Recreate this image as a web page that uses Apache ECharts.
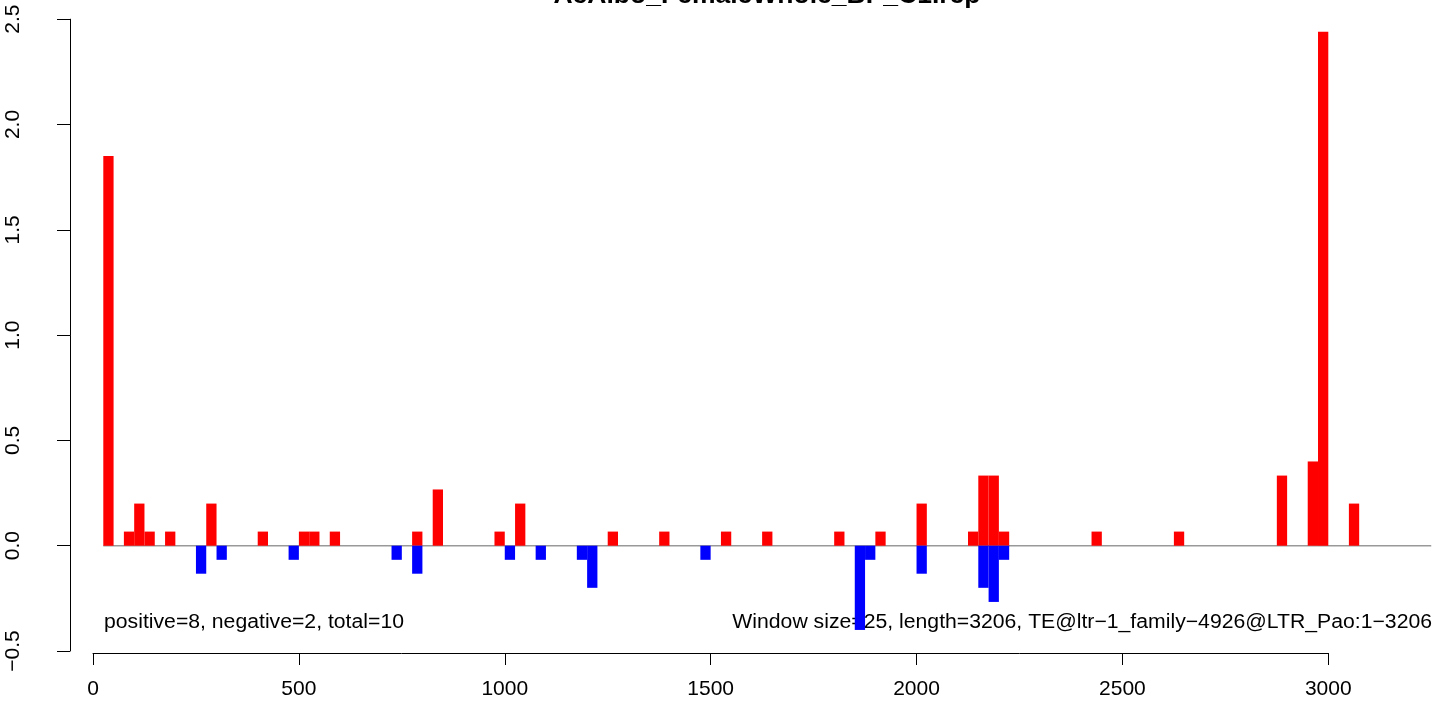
<!DOCTYPE html>
<html><head><meta charset="utf-8">
<script src="https://cdn.jsdelivr.net/npm/echarts@6/dist/echarts.min.js"></script>
<style>html,body{margin:0;padding:0;background:#fff}#c{width:1455px;height:704px}</style>
</head><body><div id="c"></div>
<script>
const titleText = 'AcAlbo_FemaleWhole_BP_C1.rep';
const leftNote = 'positive=8, negative=2, total=10';
const rightNote = 'Window size=25, length=3206, TE@ltr\u22121_family\u22124926@LTR_Pao:1\u22123206';
const windowSize = 25;
const xTicks = [0, 500, 1000, 1500, 2000, 2500, 3000];
const yTicks = [-0.5, 0, 0.5, 1, 1.5, 2, 2.5];
const baselineRange = [25, 3250];
const posWindowStart = [25,75,100,125,175,275,400,500,525,575,775,825,975,1025,1250,1375,1525,1625,1800,1900,2000,2125,2150,2175,2200,2425,2625,2875,2950,2975,3050];
const posValue = [1.85,0.067,0.2,0.067,0.067,0.2,0.067,0.067,0.067,0.067,0.067,0.267,0.067,0.2,0.067,0.067,0.067,0.067,0.067,0.067,0.2,0.067,0.333,0.333,0.067,0.067,0.067,0.333,0.4,2.44,0.2];
const negWindowStart = [250,300,475,725,775,1000,1075,1175,1200,1475,1850,1875,2000,2150,2175,2200];
const negValue = [-0.133,-0.067,-0.067,-0.067,-0.133,-0.067,-0.067,-0.067,-0.2,-0.067,-0.4,-0.067,-0.133,-0.2,-0.267,-0.067];

const FONT = '"Liberation Sans", Arial, Helvetica, sans-serif';
const chart = echarts.init(document.getElementById('c'), null, {renderer: 'canvas'});
const posData = posWindowStart.map((s, i) => [s + windowSize / 2, posValue[i]]);
const negData = negWindowStart.map((s, i) => [s + windowSize / 2, negValue[i]]);
const gridLeft = 93, gridRight = 126.7;
const pxPerUnit = (1455 - gridLeft - gridRight) / (xTicks[xTicks.length - 1] - xTicks[0]);
const SX = 1.06;

const texts = [
  {type: 'text', x: 767, y: -4, z: 0, scaleX: SX,
   style: {text: titleText, fill: '#000', font: 'bold 25px ' + FONT, align: 'center', verticalAlign: 'middle'}},
  {type: 'text', x: 104, y: 622, z: 0, scaleX: SX,
   style: {text: leftNote, fill: '#000', font: '20px ' + FONT, align: 'left', verticalAlign: 'middle'}},
  {type: 'text', x: 1432, y: 622, z: 0, scaleX: SX,
   style: {text: rightNote, fill: '#000', font: '20px ' + FONT, align: 'right', verticalAlign: 'middle'}}
];

chart.setOption({
  animation: false,
  backgroundColor: '#ffffff',
  grid: {left: gridLeft, right: gridRight, top: 19.2, bottom: 53, containLabel: false},
  xAxis: {
    type: 'value', min: xTicks[0], max: xTicks[xTicks.length - 1], interval: 500,
    offset: 2,
    axisLine: {show: true, onZero: false, lineStyle: {color: '#000', width: 1}},
    axisTick: {show: true, length: 12, lineStyle: {color: '#000', width: 1}},
    axisLabel: {show: true, margin: 26, color: '#000', fontSize: 21, fontFamily: FONT,
      formatter: v => String(v)},
    splitLine: {show: false}
  },
  yAxis: {
    type: 'value', min: yTicks[0], max: yTicks[yTicks.length - 1], interval: 0.5,
    offset: 23,
    axisLine: {show: true, onZero: false, lineStyle: {color: '#000', width: 1}},
    axisTick: {show: true, length: 13, lineStyle: {color: '#000', width: 1}},
    axisLabel: {show: true, rotate: 90, margin: 46, color: '#000', fontSize: 21, fontFamily: FONT,
      formatter: v => v.toFixed(1).replace('-', '\u2212')},
    splitLine: {show: false}
  },
  series: [
    {type: 'bar', data: posData, barWidth: windowSize * pxPerUnit, barGap: '-100%', clip: false, z: 3,
     itemStyle: {color: '#ff0000'}},
    {type: 'bar', data: negData, barWidth: windowSize * pxPerUnit, barGap: '-100%', clip: false, z: 3,
     itemStyle: {color: '#0000ff'}}
  ],
  graphic: texts
});

const p0 = chart.convertToPixel({gridIndex: 0}, [baselineRange[0], 0]);
const p1 = chart.convertToPixel({gridIndex: 0}, [baselineRange[1], 0]);
chart.setOption({
  graphic: texts.concat([
    {type: 'line', z: 1, silent: true,
     shape: {x1: p0[0], y1: p0[1], x2: p1[0], y2: p1[1]},
     style: {stroke: '#999999', lineWidth: 1.5}}
  ])
});
</script>
</body></html>
